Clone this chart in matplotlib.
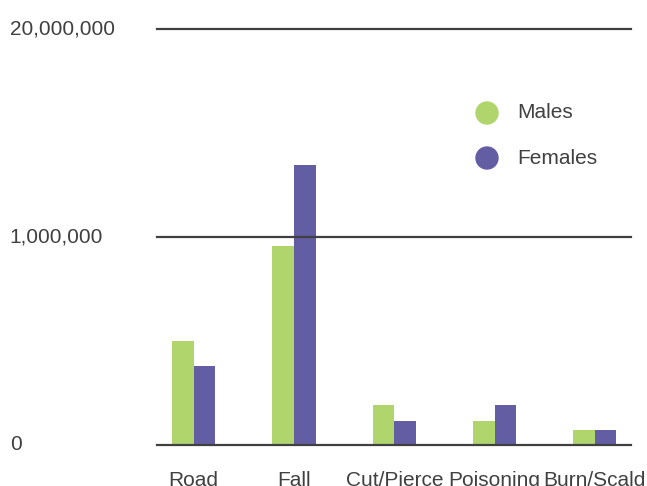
import numpy as np
import matplotlib

matplotlib.use("Agg")
import matplotlib.pyplot as plt

plt.rcParams["font.family"] = ["Liberation Sans", "DejaVu Sans"]

causes = ["Road", "Fall", "Cut/Pierce", "Poisoning", "Burn/Scald"]
males = [500_000, 957_000, 190_000, 113_000, 70_000]
females = [380_000, 7_600_000, 113_000, 190_000, 70_000]
ytick_values = [0, 1_000_000, 20_000_000]
ytick_labels = ["0", "1,000,000", "20,000,000"]

GREEN = "#b0d56d"
PURPLE = "#635da3"
INK = "#404040"


# piecewise-linear axis: 0..1M takes the lower half, 1M..20M the upper half
def forward(v):
    v = np.asarray(v, dtype=float)
    return np.where(v <= 1e6, v / 1e6, 1 + (v - 1e6) / 19e6)


def inverse(s):
    s = np.asarray(s, dtype=float)
    return np.where(s <= 1, s * 1e6, 1e6 + (s - 1) * 19e6)


fig = plt.figure(figsize=(6.47, 4.86), dpi=100)
ax = fig.add_axes([157 / 647, 41.5 / 486, 474 / 647, 415.5 / 486])
ax.set_yscale("function", functions=(forward, inverse))

x = np.arange(len(causes))
w = 0.215
ax.bar(x - w / 2, males, width=w, color=GREEN, zorder=1)
ax.bar(x + w / 2, females, width=w, color=PURPLE, zorder=1)

for v in ytick_values:
    ax.axhline(v, color=INK, lw=1.6, clip_on=False, zorder=2)

ax.set_xlim(-0.365, 4.36)
ax.set_ylim(0, 20_000_000)
for s in ax.spines.values():
    s.set_visible(False)

ax.set_yticks(ytick_values)
ax.set_yticklabels(ytick_labels)
ax.yaxis.set_minor_locator(matplotlib.ticker.NullLocator())
ax.tick_params(axis="y", length=0, pad=106, labelsize=15, labelcolor=INK)
for lab in ax.get_yticklabels():
    lab.set_horizontalalignment("left")
    lab.set_verticalalignment("center")

ax.set_xticks(x)
ax.set_xticklabels(causes)
ax.tick_params(axis="x", length=0, pad=19, labelsize=15, labelcolor=INK)

# legend drawn as dots with text
for ypix, label, color in [(113, "Males", GREEN), (158, "Females", PURPLE)]:
    fy = 1 - ypix / 486
    fig.add_artist(matplotlib.patches.Ellipse((487 / 647, fy), 22 / 647, 22 / 486,
                                              transform=fig.transFigure, color=color))
    fig.text(517 / 647, fy, label, fontsize=15, color=INK, va="center", ha="left")

fig.savefig("out.png", dpi=100)
